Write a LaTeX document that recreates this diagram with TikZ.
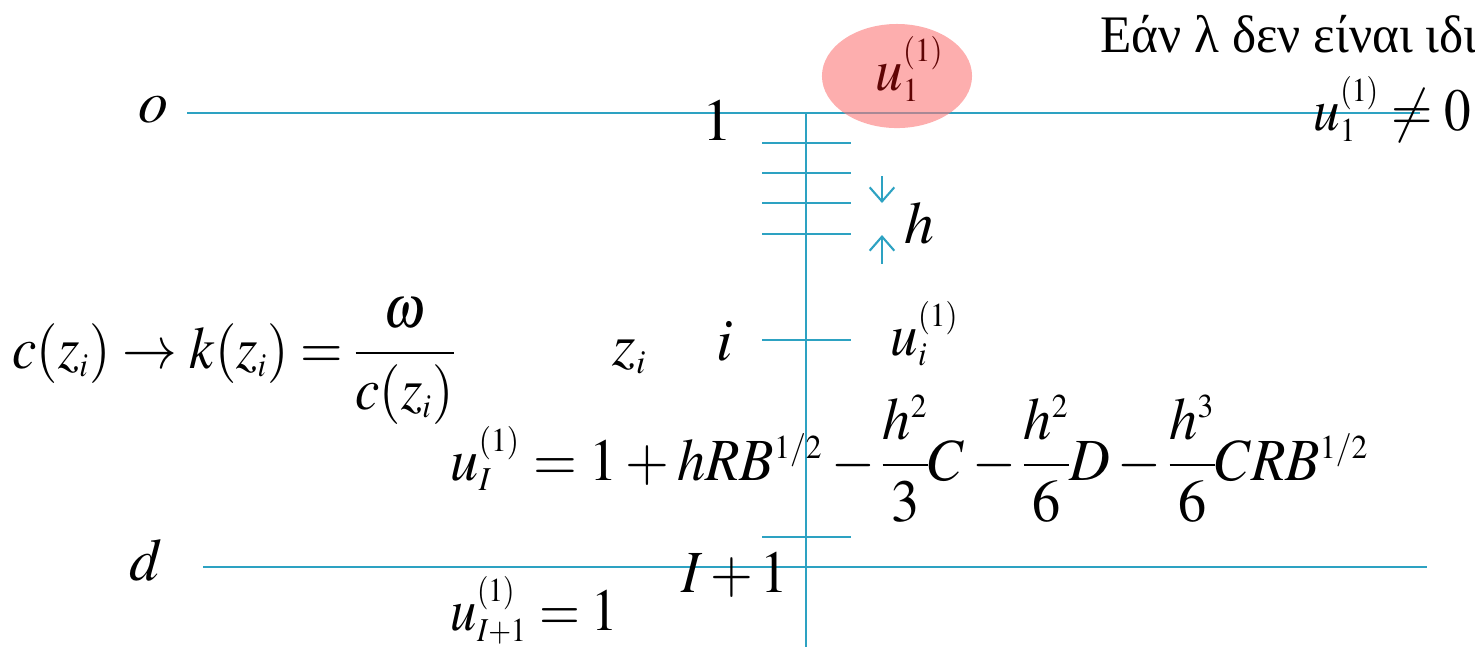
\documentclass[tikz,border=0pt]{standalone}
\usepackage{amsmath}
\usepackage{graphicx}
\usepackage{mathptmx}
\usepackage[no-math]{fontspec}
\setmainfont{Liberation Serif}
\usetikzlibrary{arrows.meta, shapes.geometric}
\DeclareMathSizes{17}{17}{9.5}{7}
\definecolor{gridblue}{RGB}{45,162,194}
\definecolor{bubble}{RGB}{252,120,120}
\definecolor{maroon}{RGB}{95,5,5}
% narrow setting of the formulas
\newcommand\slim[2][0.92]{\scalebox{#1}[1]{#2}}

\begin{document}
\begin{tikzpicture}[
        x=0.01cm, y=-0.01cm,
        every node/.style={font=\fontsize{17}{20}\selectfont, inner sep=0pt},
        grid/.style={gridblue, line width=0.6pt},
        gap/.style={gridblue, line width=0.6pt, -{Straight Barb[length=4pt, width=7pt]}},
        lbl/.style={anchor=base}
    ]
    \useasboundingbox (0,0) rectangle (1475,647);
    \clip (0,0) rectangle (1475,647);
    \nulldelimiterspace=0pt
%
    % Layers: surface o and bottom d
    \coordinate (o0) at (187,113);
    \coordinate (o1) at (1420,113);
    \coordinate (d0) at (203,567);
    \coordinate (d1) at (1427,567);
    \draw[grid] (o0) -- (o1);
    \draw[grid] (d0) -- (d1);
%
    % Depth axis
    \coordinate (top) at (806,113);
    \coordinate (bot) at (806,647);
    \draw[grid] (top) -- (bot);
%
    % Grid ticks
    \foreach \y in {143,173,203,234,340,537}
        \draw[grid] (762,\y) -- (851,\y);
%
    % Step size h
    \coordinate (a1) at (882,176);
    \coordinate (a2) at (882,203);
    \coordinate (b1) at (882,264);
    \coordinate (b2) at (882,235);
    \draw[gap] (a1) -- (a2);
    \draw[gap] (b1) -- (b2);
    \node[lbl] (hlab) at (919,243) {$h$};
%
    % Labels on the axis
    \node[lbl] (olab) at (153,122) {$o$};
    \node[lbl] (dlab) at (146,580) {$d$};
    \node[lbl] (one) at (717,140) {$1$};
    \node[lbl] (ilab) at (725,360) {$i$};
    \node[lbl] (zlab) at (630,365) {$z_i$};
    \node[lbl] (Ilab) at (735,592) {\slim{$I+1$}};
%
    % Values
    \node[anchor=base west] (ui) at (890,355) {\slim{$u_i^{(1)}$}};
    \node[anchor=base west] (ubot) at (450,630) {\slim[0.88]{$u_{I+1}^{(1)}=1$}};
    \node[anchor=base west] (uI) at (450,480)
        {\slim[0.943]{$u_I^{(1)}=1+hRB^{1/2}-\dfrac{h^2}{3}C-\dfrac{h^2}{6}D-\dfrac{h^3}{6}CRB^{1/2}$}};
    \node[anchor=base west] (kz) at (12,368)
        {\slim[0.915]{$c(z_i)\rightarrow k(z_i)=\dfrac{\omega}{c(z_i)}$}};
    \node[anchor=base west] (cond) at (1313,130) {\slim[0.89]{$u_1^{(1)}\neq 0$}};
    \node[anchor=base west, font=\fontsize{15}{18}\selectfont] (note) at (1100,52)
        {\slim[0.97]{Εάν λ δεν είναι ιδιοτιμή}};
%
    % Highlighted top value
    \node[ellipse, fill=bubble, fill opacity=0.6, minimum width=1.5cm, minimum height=1.04cm] (spot) at (897,76) {};
    \node[anchor=base west, text=maroon] (utop) at (875,90) {\slim{$u_1^{(1)}$}};
%
\end{tikzpicture}
\end{document}
